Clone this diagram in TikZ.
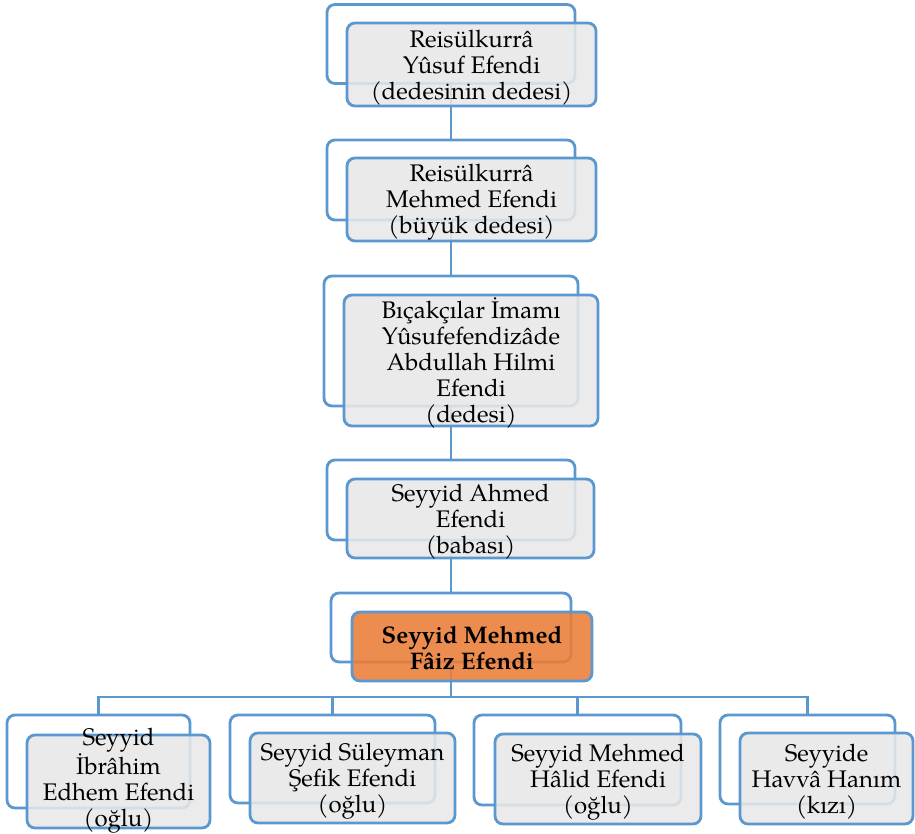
\documentclass[tikz,border=0pt]{standalone}
\usepackage{fontspec}
\setmainfont{TeX Gyre Pagella}
\begin{document}
\begin{tikzpicture}[x=1pt,y=-1pt,
  every node/.style={inner sep=0pt, outer sep=0pt},
  backbox/.style={draw=boxblue, line width=2.8pt, rounded corners=8pt, fill=white},
  frontbox/.style={draw=boxblue, line width=2.8pt, rounded corners=8pt, fill=boxgray, fill opacity=0.88},
  mainbox/.style={frontbox, fill=boxorange},
  txt/.style={align=center, font=\fontsize{24}{26}\selectfont},
  maintxt/.style={txt, font=\fontsize{24}{26}\selectfont\bfseries},
  conn/.style={draw=boxblue, line width=2.8pt}]
\definecolor{boxblue}{RGB}{91,152,208}
\definecolor{boxgray}{RGB}{232,232,232}
\definecolor{boxorange}{RGB}{235,125,55}
\useasboundingbox (0,0) rectangle (915,834);
% back boxes
\node[backbox, minimum width=248, minimum height=79] (b1) at (451,44) {};
\node[backbox, minimum width=248, minimum height=80] (b2) at (451,180) {};
\node[backbox, minimum width=254, minimum height=130] (b3) at (451,341) {};
\node[backbox, minimum width=248, minimum height=80] (b4) at (451,500) {};
\node[backbox, minimum width=240, minimum height=69] (b5) at (451,627.5) {};
\node[backbox, minimum width=183, minimum height=93] (c1) at (98.5,761.5) {};
\node[backbox, minimum width=205, minimum height=88] (c2) at (332.5,759) {};
\node[backbox, minimum width=207, minimum height=90] (c3) at (577.5,760) {};
\node[backbox, minimum width=175, minimum height=89] (c4) at (807.5,759.5) {};
% connectors
\draw[conn] (b1.south) -- (b2.north);
\draw[conn] (b2.south) -- (b3.north);
\draw[conn] (b3.south) -- (b4.north);
\draw[conn] (b4.south) -- (b5.north);
\draw[conn] (b5.south) -- ++(0,35) -| (c1.north);
\draw[conn] (b5.south) -- ++(0,35) -| (c2.north);
\draw[conn] (b5.south) -- ++(0,35) -| (c3.north);
\draw[conn] (b5.south) -- ++(0,35) -| (c4.north);
% front boxes
\node[frontbox, minimum width=249, minimum height=83] (f1) at (471.5,64.5) {};
\node[frontbox, minimum width=249, minimum height=83] (f2) at (471.5,199.5) {};
\node[frontbox, minimum width=254, minimum height=131] (f3) at (471,360.5) {};
\node[frontbox, minimum width=247, minimum height=79] (f4) at (470.5,518.5) {};
\node[mainbox, minimum width=240, minimum height=69] (f5) at (472,646.5) {};
\node[frontbox, minimum width=183, minimum height=93] (g1) at (118.5,781.5) {};
\node[frontbox, minimum width=205, minimum height=90] (g2) at (352.5,778) {};
\node[frontbox, minimum width=206, minimum height=90] (g3) at (598,779) {};
\node[frontbox, minimum width=173, minimum height=91] (g4) at (826.5,778.5) {};
% texts
\node[txt] (t1) at ([yshift=-3pt]f1.center) {Reisülkurrâ\\Yûsuf Efendi\\(dedesinin dedesi)};
\node[txt] (t2) at ([yshift=-3pt]f2.center) {Reisülkurrâ\\Mehmed Efendi\\(büyük dedesi)};
\node[txt] (t3) at ([yshift=-2pt]f3.center) {Bıçakçılar İmamı\\Yûsufefendizâde\\Abdullah Hilmi\\Efendi\\(dedesi)};
\node[txt] (t4) at ([yshift=-3pt]f4.center) {Seyyid Ahmed\\Efendi\\(babası)};
\node[maintxt] (t5) at ([yshift=-2pt]f5.center) {Seyyid Mehmed\\Fâiz Efendi};
\node[txt] (u1) at ([yshift=1pt]g1.center) {Seyyid\\İbrâhim\\Edhem Efendi\\(oğlu)};
\node[txt] (u2) at ([yshift=-3pt]g2.center) {Seyyid Süleyman\\Şefik Efendi\\(oğlu)};
\node[txt] (u3) at ([yshift=-3pt]g3.center) {Seyyid Mehmed\\Hâlid Efendi\\(oğlu)};
\node[txt] (u4) at ([yshift=-3pt]g4.center) {Seyyide\\Havvâ Hanım\\(kızı)};
\end{tikzpicture}
\end{document}
